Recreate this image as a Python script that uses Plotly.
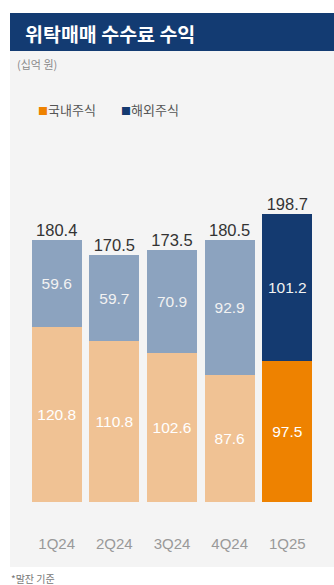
import plotly.graph_objects as go

# ---- data ----
quarters = ["1Q24", "2Q24", "3Q24", "4Q24", "1Q25"]
domestic = [120.8, 110.8, 102.6, 87.6, 97.5]
overseas = [59.6, 59.7, 70.9, 92.9, 101.2]
totals = [180.4, 170.5, 173.5, 180.5, 198.7]
series_names = ["국내주식", "해외주식"]

title_text = "위탁매매 수수료 수익"
unit_text = "(십억 원)"
note_text = "*말잔 기준"

# ---- styling ----
W, H = 334, 585
ORANGE_LIGHT = "#F0C294"
ORANGE = "#EE8200"
BLUEGREY = "#8CA3BF"
NAVY = "#143A70"
HEADER = "#133B72"
PANEL = "#F4F4F4"
NUM_FONT = "Liberation Sans, Arial, sans-serif"
KR_FONT = "Noto Sans CJK KR, sans-serif"

dom_colors = [ORANGE_LIGHT] * 4 + [ORANGE]
ovs_colors = [BLUEGREY] * 4 + [NAVY]

def px(x):
    return x / W

def py(y):
    return 1 - y / H

plot_top, plot_bottom = 150, 502.3
px_per_unit = 1.452
y_max = (plot_bottom - plot_top) / px_per_unit

# category axis: centres at 56.7 px with 57.65 px spacing
step = 57.65
x0 = -56.7 / step
x1 = x0 + W / step

fig = go.Figure()
fig.add_trace(go.Bar(
    x=quarters, y=domestic, name=series_names[0],
    marker=dict(color=dom_colors, line=dict(width=0)),
    text=[f"{v:.1f}" for v in domestic], textposition="inside",
    insidetextanchor="middle",
    textfont=dict(family=NUM_FONT, size=15.5, color="#FFFFFF"),
    showlegend=False, hoverinfo="skip",
))
fig.add_trace(go.Bar(
    x=quarters, y=overseas, name=series_names[1],
    marker=dict(color=ovs_colors, line=dict(width=0)),
    text=[f"{v:.1f}" for v in overseas], textposition="inside",
    insidetextanchor="middle",
    textfont=dict(family=NUM_FONT, size=15.5, color="#F2F2F2"),
    showlegend=False, hoverinfo="skip",
))
fig.add_trace(go.Scatter(
    x=quarters, y=totals, mode="text",
    text=[f"{v:.1f}" for v in totals], textposition="top center",
    textfont=dict(family=NUM_FONT, size=16.5, color="#333333"),
    showlegend=False, hoverinfo="skip", cliponaxis=False,
))

shapes = [
    dict(type="rect", xref="paper", yref="paper", x0=px(10), x1=px(334),
         y0=py(567), y1=py(51), fillcolor=PANEL, line=dict(width=0), layer="below"),
    dict(type="rect", xref="paper", yref="paper", x0=px(10), x1=px(334),
         y0=py(51), y1=py(13), fillcolor=HEADER, line=dict(width=0), layer="below"),
]

annotations = [
    dict(text=f"<b>{title_text}</b>", xref="paper", yref="paper", x=px(23), y=py(33),
         xanchor="left", yanchor="middle", showarrow=False,
         font=dict(family=KR_FONT, size=19.5, color="#FFFFFF")),
    dict(text=unit_text, xref="paper", yref="paper", x=px(15), y=py(64),
         xanchor="left", yanchor="middle", showarrow=False,
         font=dict(family=KR_FONT, size=11, color="#8A8A8A")),
    dict(text=f"<span style='color:{ORANGE};font-size:10px'>■</span>{series_names[0]}",
         xref="paper", yref="paper",
         x=px(36), y=py(109), xanchor="left", yanchor="middle", showarrow=False,
         font=dict(family=KR_FONT, size=13, color="#555555")),
    dict(text=f"<span style='color:{NAVY};font-size:10px'>■</span>{series_names[1]}",
         xref="paper", yref="paper",
         x=px(119), y=py(109), xanchor="left", yanchor="middle", showarrow=False,
         font=dict(family=KR_FONT, size=13, color="#555555")),
    dict(text=note_text, xref="paper", yref="paper", x=px(9), y=py(578),
         xanchor="left", yanchor="middle", showarrow=False,
         font=dict(family=KR_FONT, size=10, color="#777777")),
]

fig.update_layout(
    width=W, height=H,
    margin=dict(l=0, r=0, t=0, b=0, pad=0),
    paper_bgcolor="#FFFFFF", plot_bgcolor="rgba(0,0,0,0)",
    barmode="stack", bargap=0.133,
    shapes=shapes, annotations=annotations,
    uniformtext=dict(mode=False),
    xaxis=dict(domain=[0, 1], range=[x0, x1], showgrid=False, zeroline=False,
               showline=False, ticks="outside", ticklen=28, tickcolor="rgba(0,0,0,0)",
               tickfont=dict(family=NUM_FONT, size=15, color="#999999"),
               automargin=False, fixedrange=True),
    yaxis=dict(domain=[1 - plot_bottom / H, 1 - plot_top / H], range=[0, y_max],
               showgrid=False, zeroline=False, showline=False, showticklabels=False,
               automargin=False, fixedrange=True),
    font=dict(family=KR_FONT),
)

fig.write_html("out.html")
